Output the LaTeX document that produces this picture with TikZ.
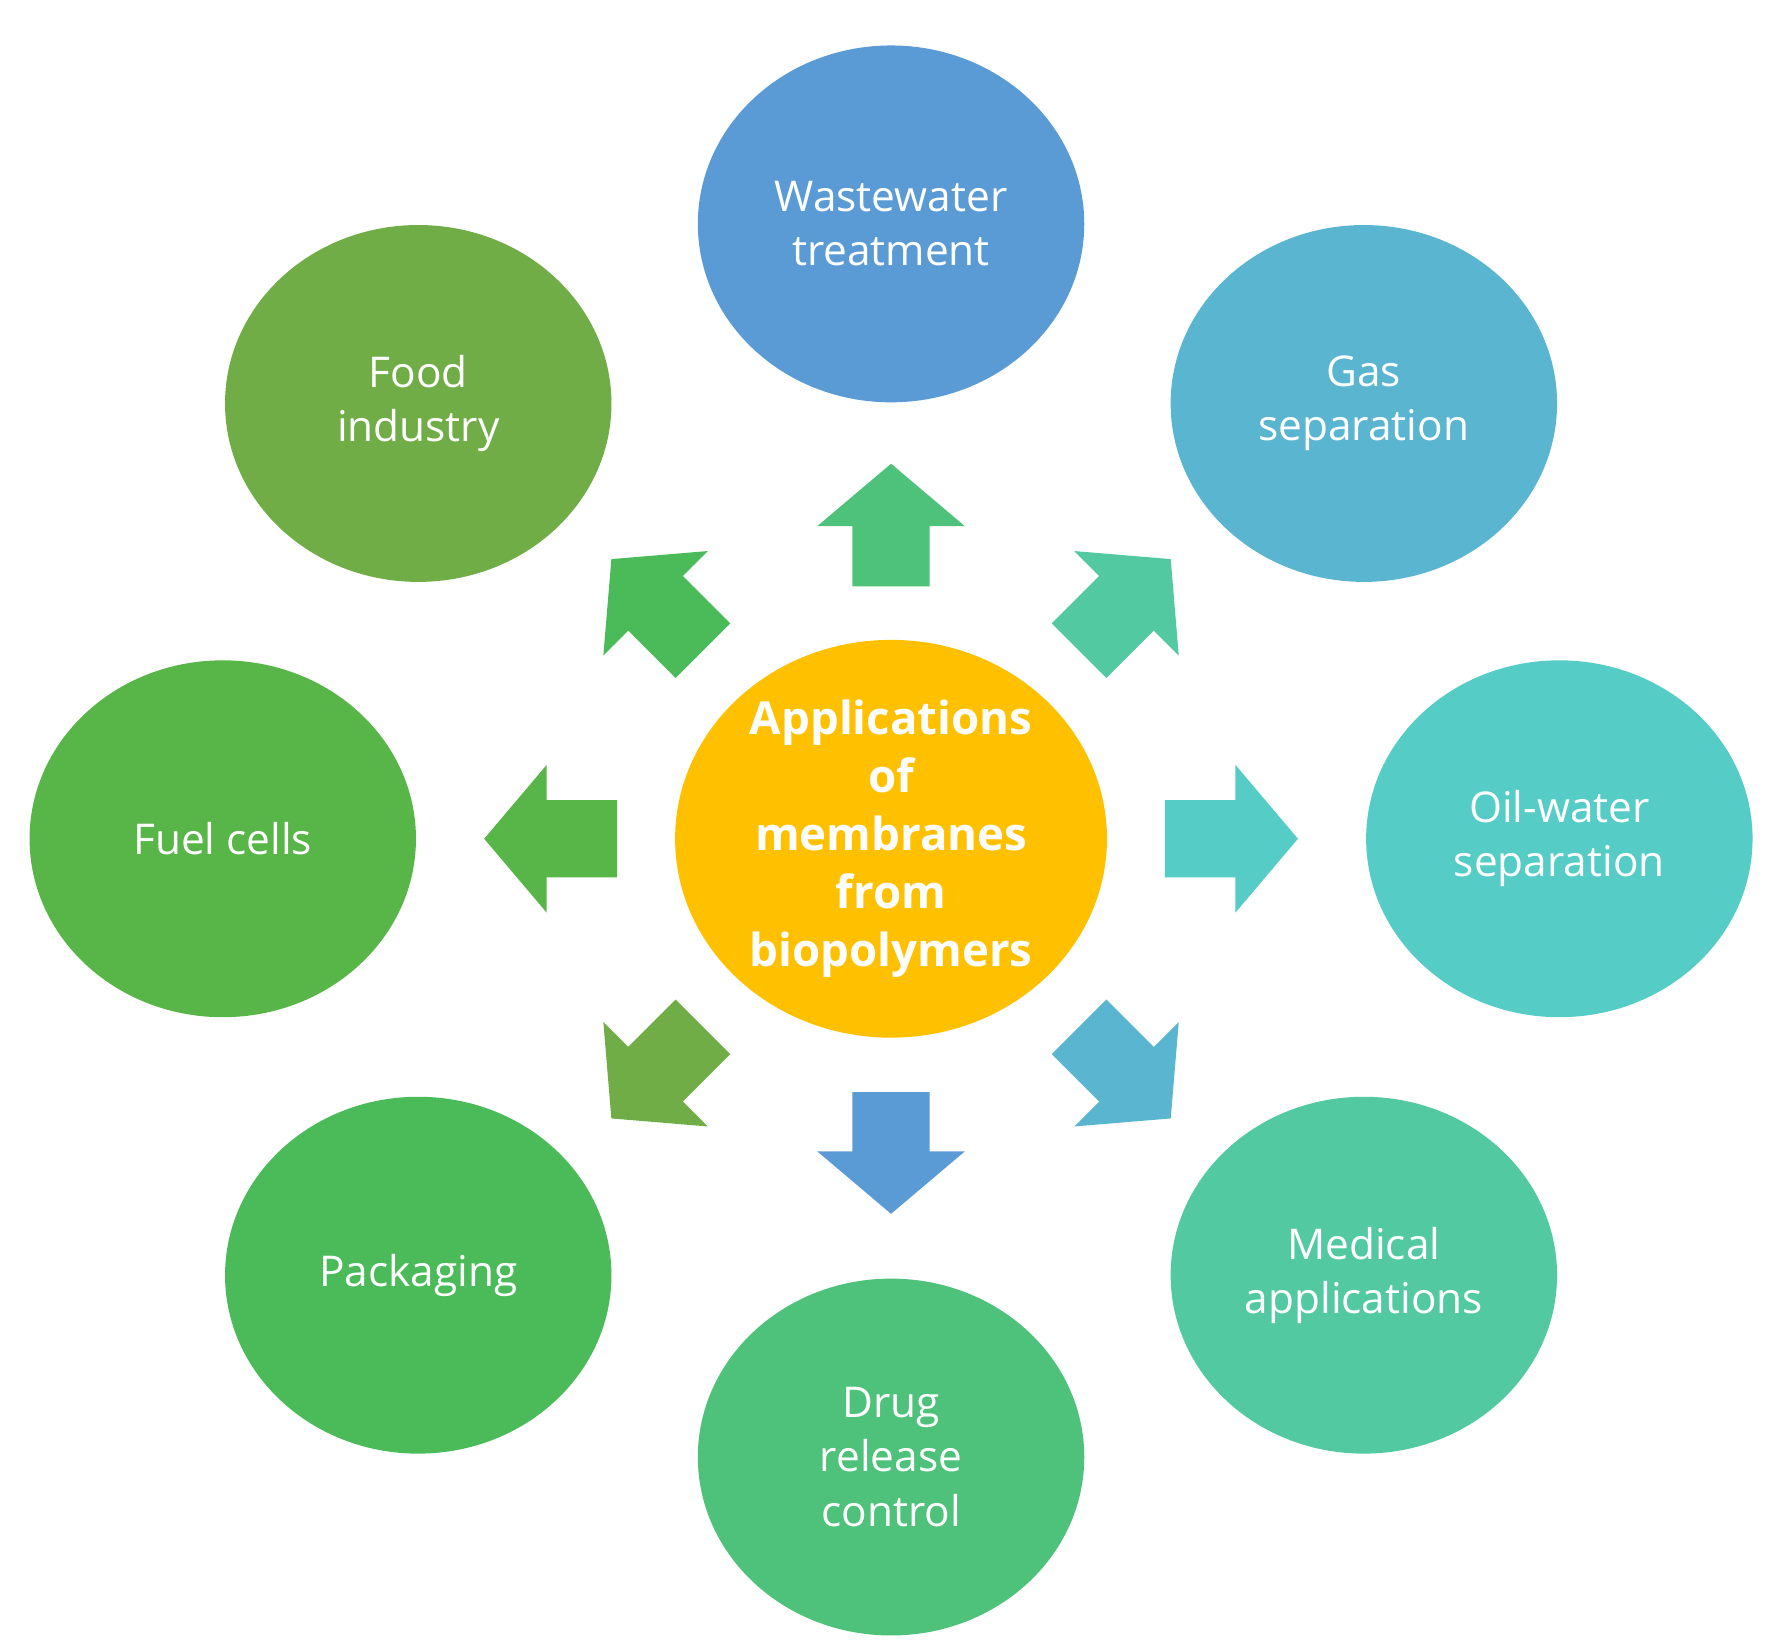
\documentclass[tikz,border=0pt]{standalone}
\usepackage{fontspec}
\setmainfont{Open Sans}
\begin{document}
\begin{tikzpicture}[x=0.01cm,y=-0.01cm,
 bub/.style={ellipse,minimum width=340\pgflinewidth, draw=none,text=white,align=center,font=\fontsize{10.6}{13.6}\selectfont},
 ]
\useasboundingbox (0,0) rectangle (1560,1449);
\tikzset{b/.style={draw=none,text=white,align=center,font=\fontsize{10.6}{13.6}\selectfont}}
\def\bub#1#2#3#4#5{\fill[#4] (#1,#2) ellipse [x radius=170,y radius=157];
 \node[b] (#5) at (#1,#2) {#3};}
\definecolor{cA}{HTML}{5B9BD5}\definecolor{cB}{HTML}{5AB5D1}
\definecolor{cC}{HTML}{55CCC5}\definecolor{cD}{HTML}{52C9A1}
\definecolor{cE}{HTML}{4EC27A}\definecolor{cF}{HTML}{4BBB5A}
\definecolor{cG}{HTML}{58B547}\definecolor{cH}{HTML}{70AD47}
\definecolor{cO}{HTML}{FFC000}
\bub{784}{197}{Wastewater\\treatment}{cA}{ww}
\bub{1200}{355}{Gas\\separation}{cB}{gas}
\bub{1372}{738}{Oil-water\\separation}{cC}{oil}
\bub{1200}{1122}{Medical\\applications}{cD}{med}
\bub{784}{1282}{Drug\\release\\control}{cE}{drug}
\bub{368}{1122}{Packaging}{cF}{pack}
\bub{196}{738}{Fuel cells}{cG}{fuel}
\bub{368}{355}{Food\\industry}{cH}{food}
\fill[cO] (784,738) ellipse [x radius=190,y radius=175];
\node[b,font=\bfseries\fontsize{11.4}{14.5}\selectfont] (c) at (784,738) {Applications\\of\\membranes\\from\\biopolymers};
% arrows: angle (math, y down so negative for up), r1, r2, colour
\foreach \a/\ra/\rb/\c in {-90/223/330/cA,-45/234/348/cB,0/241/358/cC,45/234/348/cD,90/222/330/cE,135/234/348/cF,180/241/358/cG,-135/234/348/cH}{
 \begin{scope}[shift={(784,738)},rotate=\a]
 \pgfmathsetmacro\rh{\rb-55}
 \fill[\c] (\ra,-34) -- (\rh,-34) -- (\rh,-65) -- (\rb,0) -- (\rh,65) -- (\rh,34) -- (\ra,34) -- cycle;
 \end{scope}}
\end{tikzpicture}
\end{document}
